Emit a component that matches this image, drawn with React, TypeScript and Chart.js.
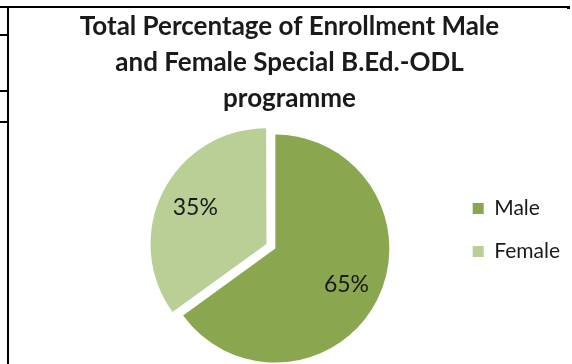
import React, { useEffect, useRef } from "react";
import { Chart, registerables, layouts } from "chart.js";

Chart.register(...registerables);

const categories = ["Male", "Female"];
const percentages = [65, 35];
const sliceColors = ["#8aa74f", "#b9cf96"];
const sliceOffsets = [0, 40];
const titleLines = [
  "Total Percentage of Enrollment Male",
  "and Female Special B.Ed.-ODL",
  "programme",
];

const FONT = "Lato, 'Open Sans', sans-serif";
const LEFT_GAP = 91;

const leftGapPlugin = {
  id: "leftGap",
  beforeInit(chart: any) {
    const box: any = {
      position: "left",
      weight: 0,
      fullSize: false,
      options: {},
      width: 0,
      height: 0,
      left: 0,
      top: 0,
      right: 0,
      bottom: 0,
      isHorizontal() {
        return false;
      },
      update(_maxWidth: number, maxHeight: number) {
        this.width = LEFT_GAP;
        this.height = maxHeight;
      },
      draw() {},
    };
    layouts.addBox(chart, box);
  },
};

const pctLabelPlugin = {
  id: "pctLabels",
  afterDatasetsDraw(chart: any) {
    const ctx = chart.ctx;
    const meta = chart.getDatasetMeta(0);
    const values = chart.data.datasets[0].data as number[];
    ctx.save();
    ctx.font = `23px ${FONT}`;
    ctx.fillStyle = "#1a1a1a";
    ctx.textAlign = "center";
    ctx.textBaseline = "middle";
    meta.data.forEach((arc: any, i: number) => {
      const p = arc.getProps(["x", "y", "startAngle", "endAngle", "outerRadius"], true);
      const mid = (p.startAngle + p.endAngle) / 2;
      const off = (arc.options.offset || 0) / 4;
      const d = off + p.outerRadius * 0.7;
      ctx.fillText(values[i] + "%", p.x + Math.cos(mid) * d, p.y + Math.sin(mid) * d);
    });
    ctx.restore();
  },
};

export default function App() {
  const ref = useRef<HTMLCanvasElement | null>(null);
  useEffect(() => {
    if (!ref.current) return;
    const chart = new Chart(ref.current, {
      type: "pie",
      data: {
        labels: categories,
        datasets: [
          {
            data: percentages,
            backgroundColor: sliceColors,
            borderWidth: 0,
            offset: sliceOffsets,
            radius: 114,
          } as any,
        ],
      },
      options: {
        responsive: false,
        animation: false,
        layout: { padding: 0 },
        plugins: {
          title: {
            display: true,
            text: titleLines,
            color: "#1a1a1a",
            font: { family: FONT, size: 26, weight: "bold", lineHeight: 1.4 },
            padding: { top: 0, bottom: 16 },
          },
          legend: {
            display: true,
            position: "right",
            title: {
              display: true,
              text: "",
              font: { size: 10, lineHeight: 1 },
              padding: { top: 78, bottom: 0 },
            },
            labels: {
              boxWidth: 11,
              boxHeight: 11,
              padding: 22,
              color: "#1a1a1a",
              font: { family: FONT, size: 21 },
            },
          },
          tooltip: { enabled: false },
        },
      },
      plugins: [leftGapPlugin, pctLabelPlugin],
    });
    return () => chart.destroy();
  }, []);

  const line = (s: React.CSSProperties) => (
    <div style={{ position: "absolute", background: "#000", ...s }} />
  );

  return (
    <div style={{ position: "fixed", left: 0, top: 0, width: 572, height: 364, background: "#fff", overflow: "hidden" }}>
      {line({ left: 0, top: 6, width: 570, height: 2 })}
      {line({ left: 567, top: 6, width: 3, height: 3 })}
      {line({ left: 7, top: 6, width: 2, height: 358 })}
      {line({ left: 0, top: 34, width: 8, height: 2 })}
      {line({ left: 0, top: 90, width: 8, height: 2 })}
      {line({ left: 0, top: 121, width: 8, height: 2 })}
      <canvas
        ref={ref}
        width={561}
        height={356}
        style={{ position: "absolute", left: 9, top: 8, width: 561, height: 356 }}
      />
    </div>
  );
}
